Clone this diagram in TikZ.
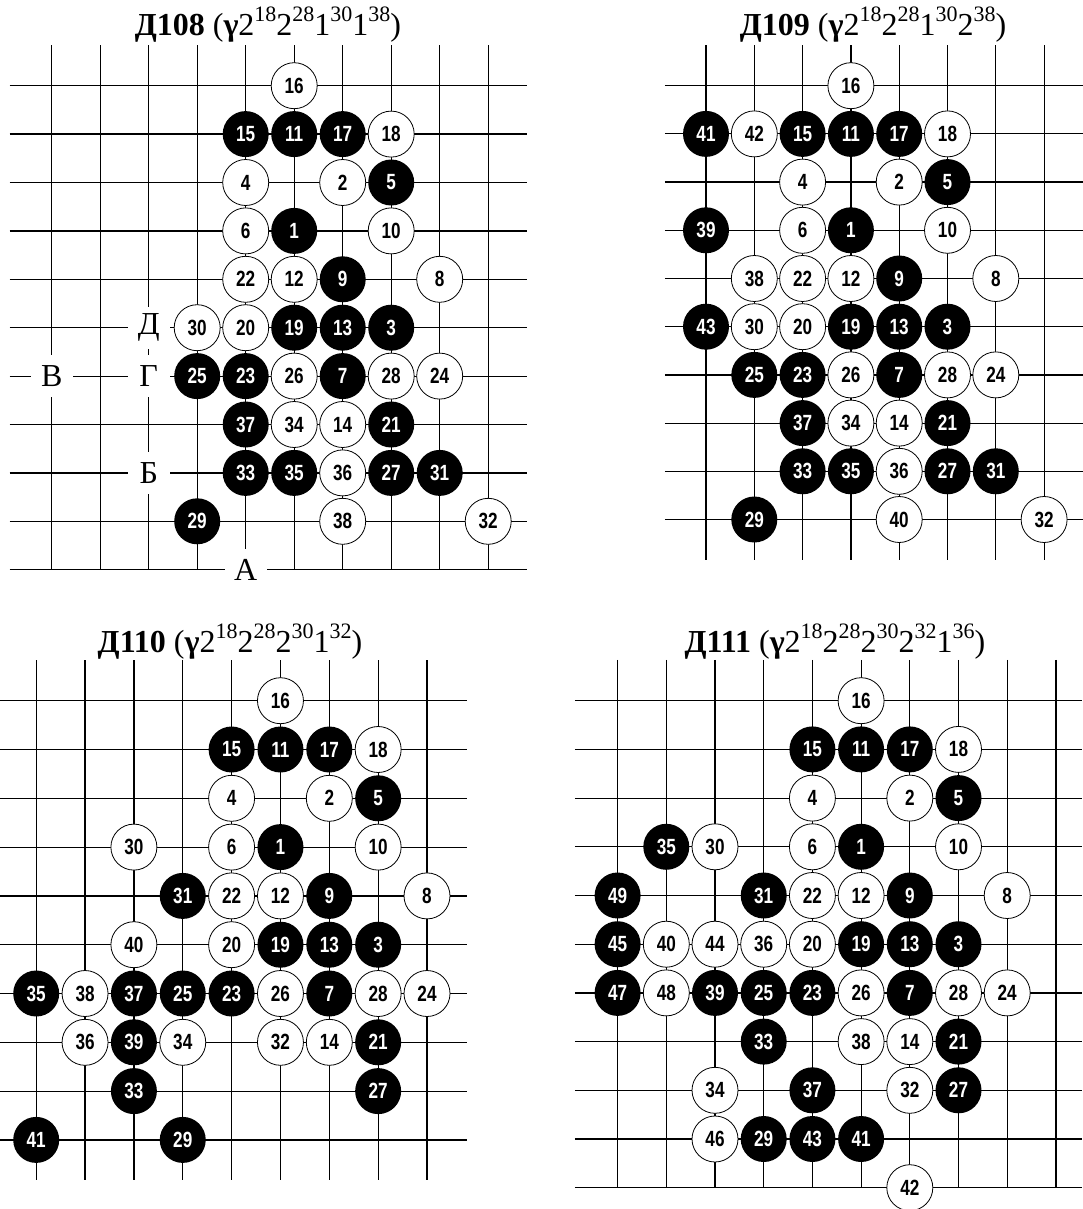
\documentclass[tikz,border=0pt]{standalone}
\usepackage{fontspec}
\setmainfont{Liberation Serif}
\newfontfamily\stonefont[FakeStretch=0.78]{Liberation Sans}
\newcommand\supnum[1]{\raisebox{14pt}{\fontsize{22}{22}\selectfont #1}}

\tikzset{
  boardline/.style={line width=1.2pt},
  stone/.style={circle,minimum size=46pt,inner sep=0pt,font=\stonefont\bfseries\fontsize{22}{22}\selectfont},
  bstone/.style={stone,fill=black,text=white},
  wstone/.style={stone,draw=black,fill=white,line width=0.8pt},
  lbl/.style={fill=white,minimum size=42pt,inner sep=0pt,font=\fontsize{32}{32}\selectfont},
  ttl/.style={anchor=base,inner sep=0pt,font=\fontsize{32}{38}\selectfont}
}

\begin{document}
\begin{tikzpicture}[x=1pt,y=-1pt]
\useasboundingbox (0,0) rectangle (1082,1209);

\node[ttl] (t108) at (268,36) {\textbf{Д108} (\textbf{γ}2\supnum{18}2\supnum{28}1\supnum{30}1\supnum{38})};
\node[ttl] (t109) at (873,36) {\textbf{Д109} (\textbf{γ}2\supnum{18}2\supnum{28}1\supnum{30}2\supnum{38})};
\node[ttl] (t110) at (230,652) {\textbf{Д110} (\textbf{γ}2\supnum{18}2\supnum{28}2\supnum{30}1\supnum{32})};
\node[ttl] (t111) at (835,652) {\textbf{Д111} (\textbf{γ}2\supnum{18}2\supnum{28}2\supnum{30}2\supnum{32}1\supnum{36})};

\begin{scope}[shift={(51.7pt,-85.7pt)},x=48.5pt,y=-48.4pt]
\foreach \c in {0,...,9} \draw[boardline] (\c,-0.84) -- (\c,10);
\foreach \r in {0,...,10} \draw[boardline] (-0.87,\r) -- (9.81,\r);
\node[lbl] (aV) at (0,6) {В};
\node[lbl] (aG) at (2,6) {Г};
\node[lbl] (aD) at (2,5) {Д};
\node[lbl] (aB) at (2,8) {Б};
\node[lbl] (aA) at (4,10) {А};
\foreach \c/\r/\n in {5/3/1,7/5/3,7/2/5,6/6/7,6/4/9,5/1/11,6/5/13,4/1/15,6/1/17,5/5/19,7/7/21,4/6/23,3/6/25,7/8/27,3/9/29,8/8/31,4/8/33,5/8/35,4/7/37}
  \node[bstone] (a\n) at (\c,\r) {\n};
\foreach \c/\r/\n in {6/2/2,4/2/4,4/3/6,8/4/8,7/3/10,5/4/12,6/7/14,5/0/16,7/1/18,4/5/20,4/4/22,8/6/24,5/6/26,7/6/28,3/5/30,9/9/32,5/7/34,6/8/36,6/9/38}
  \node[wstone] (a\n) at (\c,\r) {\n};
\end{scope}

\begin{scope}[shift={(706pt,-85.7pt)},x=48.3pt,y=-48.2pt]
\foreach \c in {0,...,7} \draw[boardline] (\c,-0.84) -- (\c,9.85);
\foreach \r in {0,...,9} \draw[boardline] (-0.85,\r) -- (7.8,\r);
\foreach \c/\r/\n in {3/3/1,5/5/3,5/2/5,4/6/7,4/4/9,3/1/11,4/5/13,2/1/15,4/1/17,3/5/19,5/7/21,2/6/23,1/6/25,5/8/27,1/9/29,6/8/31,2/8/33,3/8/35,2/7/37,0/3/39,0/1/41,0/5/43}
  \node[bstone] (b\n) at (\c,\r) {\n};
\foreach \c/\r/\n in {4/2/2,2/2/4,2/3/6,6/4/8,5/3/10,3/4/12,4/7/14,3/0/16,5/1/18,2/5/20,2/4/22,6/6/24,3/6/26,5/6/28,1/5/30,7/9/32,3/7/34,4/8/36,1/4/38,4/9/40,1/1/42}
  \node[wstone] (b\n) at (\c,\r) {\n};
\end{scope}

\begin{scope}[shift={(36.2pt,-700.7pt)},x=48.85pt,y=-48.8pt]
\foreach \c in {0,...,8} \draw[boardline] (\c,-0.83) -- (\c,9.82);
\foreach \r in {0,...,9} \draw[boardline] (-0.75,\r) -- (8.82,\r);
\foreach \c/\r/\n in {5/3/1,7/5/3,7/2/5,6/6/7,6/4/9,5/1/11,6/5/13,4/1/15,6/1/17,5/5/19,7/7/21,4/6/23,3/6/25,7/8/27,3/9/29,3/4/31,2/8/33,0/6/35,2/6/37,2/7/39,0/9/41}
  \node[bstone] (c\n) at (\c,\r) {\n};
\foreach \c/\r/\n in {6/2/2,4/2/4,4/3/6,8/4/8,7/3/10,5/4/12,6/7/14,5/0/16,7/1/18,4/5/20,4/4/22,8/6/24,5/6/26,7/6/28,2/3/30,5/7/32,3/7/34,1/7/36,1/6/38,2/5/40}
  \node[wstone] (c\n) at (\c,\r) {\n};
\end{scope}

\begin{scope}[shift={(617.6pt,-700.7pt)},x=48.7pt,y=-48.7pt]
\foreach \c in {0,...,9} \draw[boardline] (\c,-0.84) -- (\c,10);
\foreach \r in {0,...,10} \draw[boardline] (-0.88,\r) -- (9.54,\r);
\foreach \c/\r/\n in {5/3/1,7/5/3,7/2/5,6/6/7,6/4/9,5/1/11,6/5/13,4/1/15,6/1/17,5/5/19,7/7/21,4/6/23,3/6/25,7/8/27,3/9/29,3/4/31,3/7/33,1/3/35,4/8/37,2/6/39,5/9/41,4/9/43,0/5/45,0/6/47,0/4/49}
  \node[bstone] (d\n) at (\c,\r) {\n};
\foreach \c/\r/\n in {6/2/2,4/2/4,4/3/6,8/4/8,7/3/10,5/4/12,6/7/14,5/0/16,7/1/18,4/5/20,4/4/22,8/6/24,5/6/26,7/6/28,2/3/30,6/8/32,2/8/34,3/5/36,5/7/38,1/5/40,6/10/42,2/5/44,2/9/46,1/6/48}
  \node[wstone] (d\n) at (\c,\r) {\n};
\end{scope}
\end{tikzpicture}
\end{document}
